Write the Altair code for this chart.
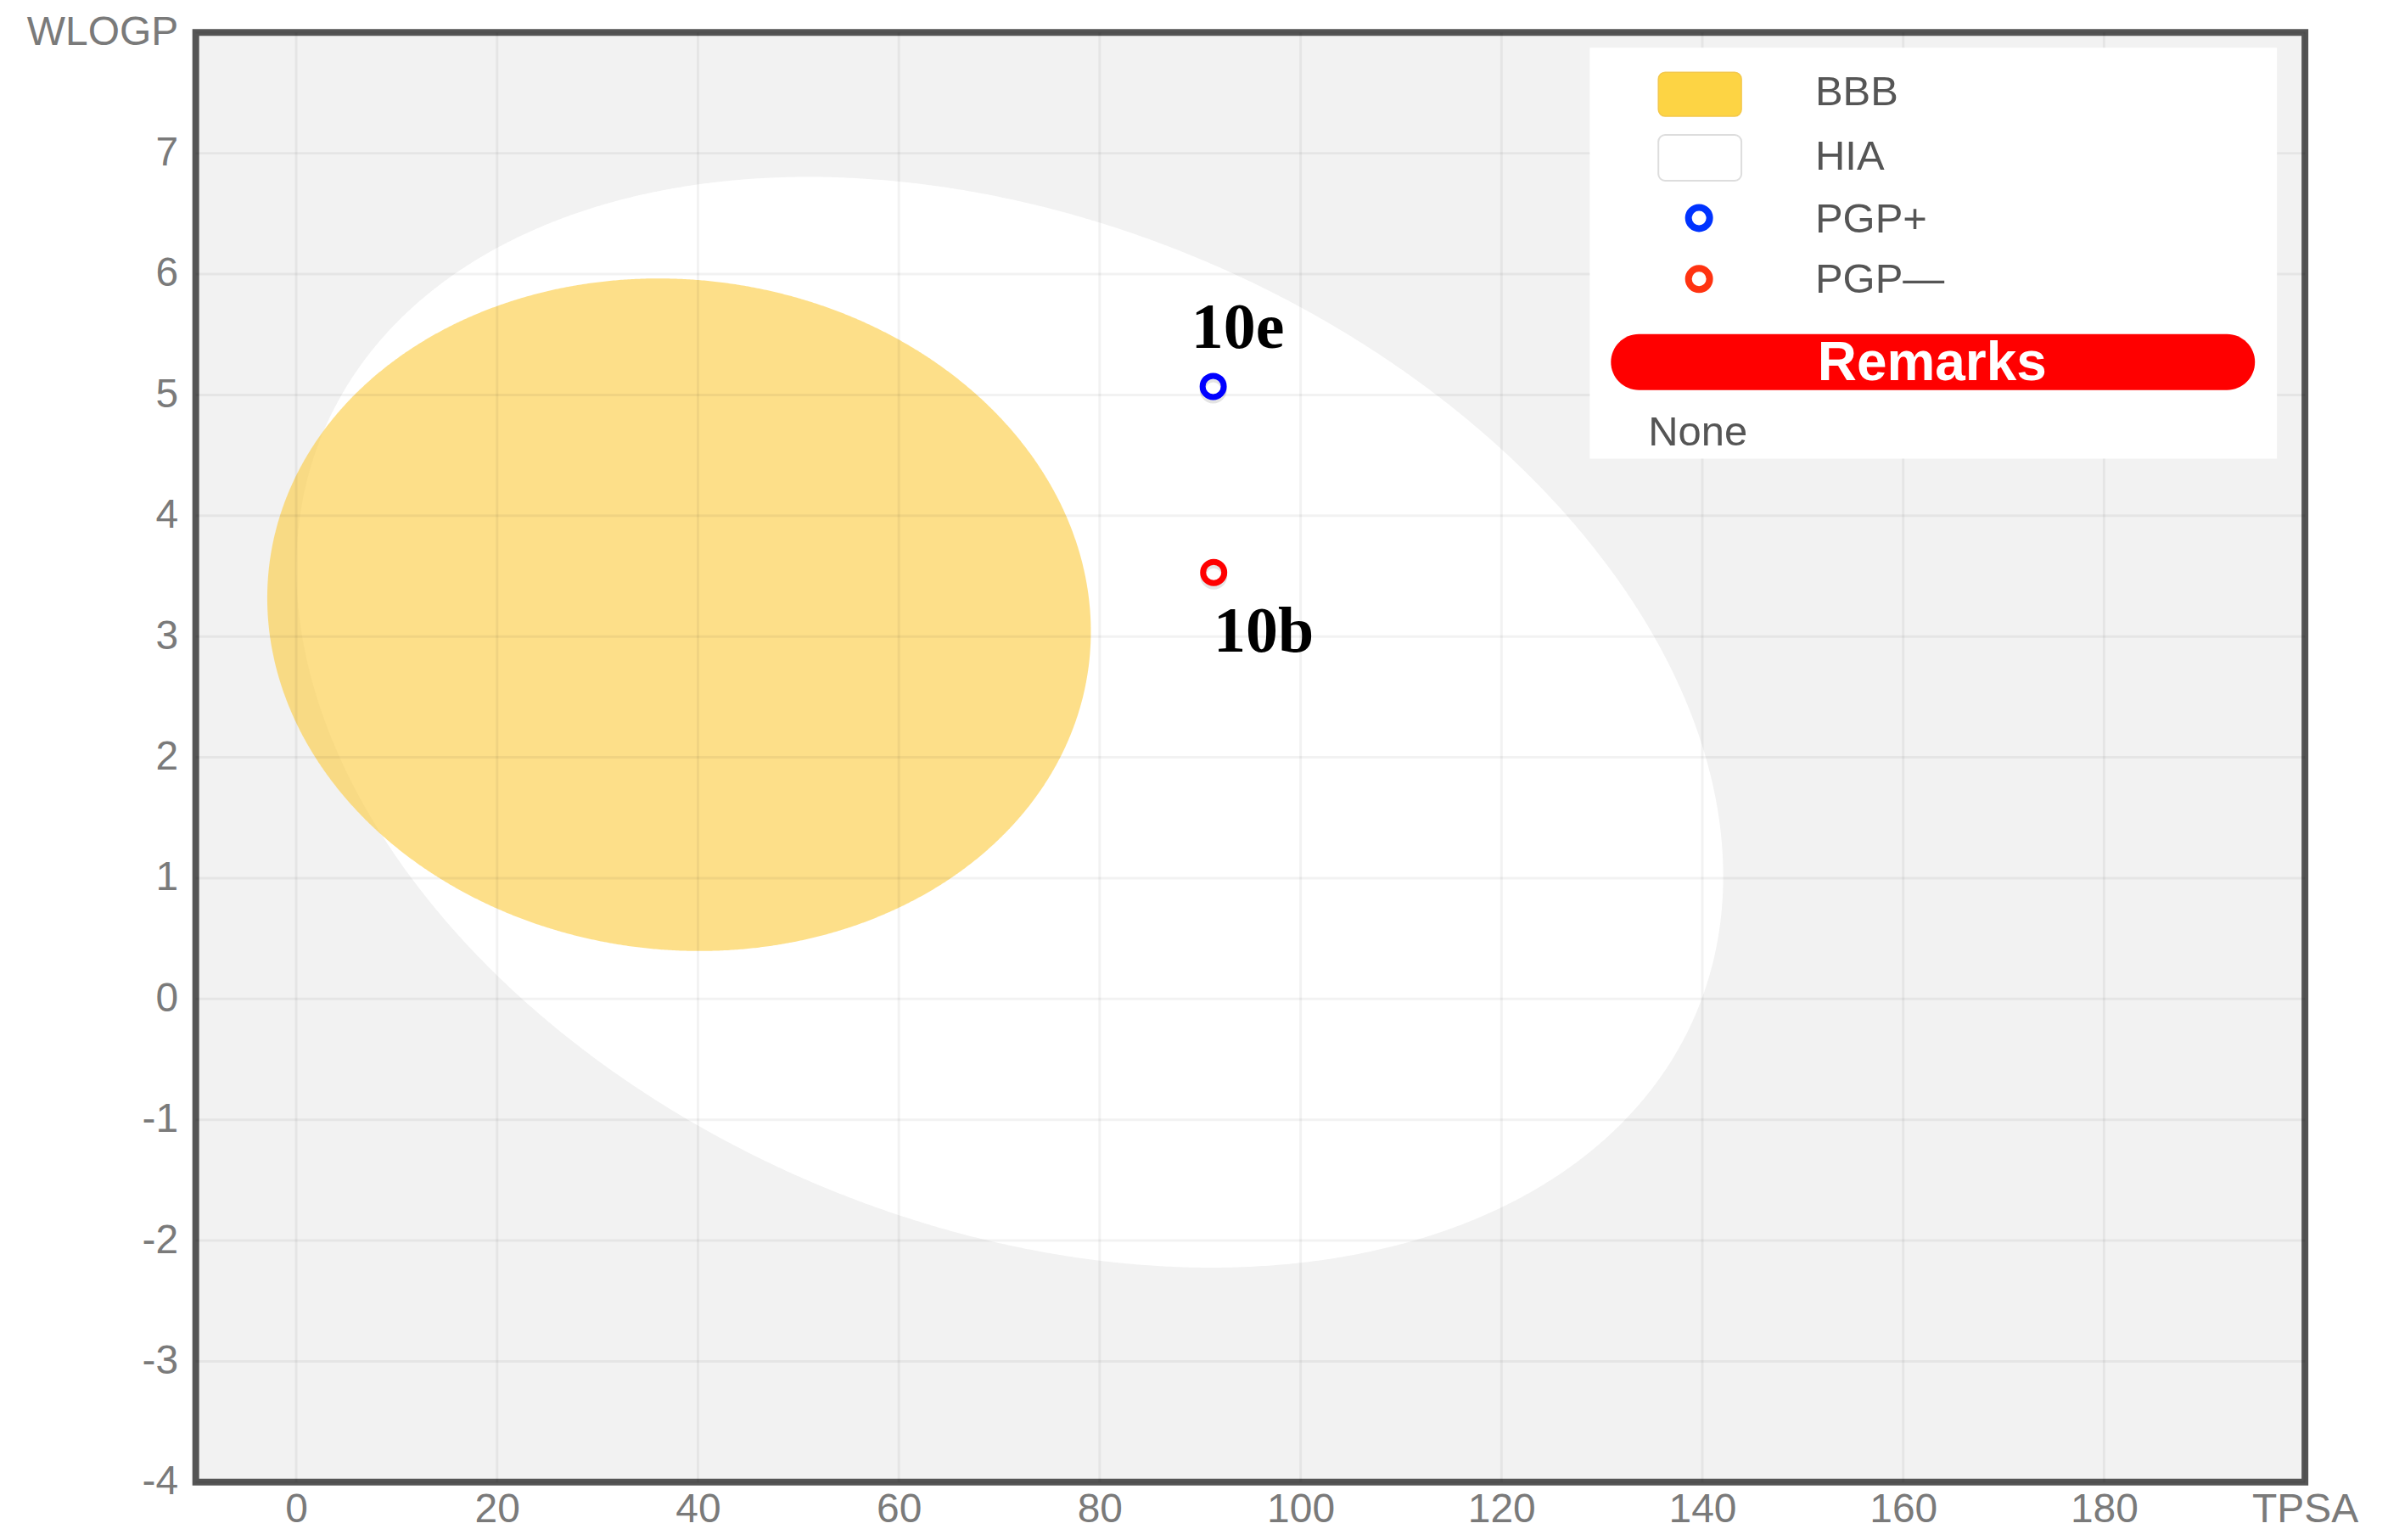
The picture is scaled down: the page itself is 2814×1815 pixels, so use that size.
import altair as alt
import numpy as np
import pandas as pd

# ---------------- data ----------------
x_ticks = [0, 20, 40, 60, 80, 100, 120, 140, 160, 180, 200]
y_ticks = [-4, -3, -2, -1, 0, 1, 2, 3, 4, 5, 6, 7, 8]
x_end_label = "TPSA"
y_end_label = "WLOGP"

compounds = ["10e", "10b"]
tpsa = [91.3, 91.35]
wlogp = [5.07, 3.53]
pgp_class = ["PGP+", "PGP—"]
pgp_colors = ["#0000ff", "#ff0000"]

legend_labels = ["BBB", "HIA", "PGP+", "PGP—"]
remarks_title = "Remarks"
remarks_text = "None"

# BOILED-Egg regions: centre (TPSA, WLOGP), semi-axes (TPSA units, WLOGP units), tilt
hia_ellipse = dict(cx=71.05, cy=2.29, a=71.04, b=4.33, phi=-0.018)
bbb_ellipse = dict(cx=38.12, cy=3.18, a=41.0, b=2.78, phi=-0.0034)


def ellipse_band(e, n=700):
    A = e["a"] * np.cos(e["phi"]); B = -e["b"] * np.sin(e["phi"])
    C = e["a"] * np.sin(e["phi"]); D = e["b"] * np.cos(e["phi"])
    ex = np.hypot(A, B)
    s = np.linspace(0, np.pi, n)
    u = -ex * np.cos(s)
    det = A * D - B * C
    P = A * A + B * B
    Q = D * B + C * A
    R = C * C + D * D
    disc = np.clip((u * Q) ** 2 - P * (u * u * R - det * det), 0, None)
    v1 = (u * Q + np.sqrt(disc)) / P
    v2 = (u * Q - np.sqrt(disc)) / P
    return pd.DataFrame({"x": e["cx"] + u, "y_top": e["cy"] + v1, "y_bot": e["cy"] + v2})


# ---------------- scales / axes ----------------
W, H = 2489, 1711
xs = alt.Scale(domain=[-10, 200], nice=False, zero=False)
ys = alt.Scale(domain=[-4, 8], nice=False, zero=False)
LABEL_FONT = "Liberation Sans"

x_axis = alt.Axis(values=x_ticks, grid=False, ticks=False, domain=False, title=None,
                  labelExpr=f"datum.value == 200 ? '{x_end_label}' : '' + datum.value",
                  labelPadding=9, labelFontSize=48, labelColor="#7a7a7a", labelFont=LABEL_FONT,
                  labelFlush=False, labelOverlap=False)
y_axis = alt.Axis(values=y_ticks, grid=False, ticks=False, domain=False, title=None,
                  labelExpr=f"datum.value == 8 ? '{y_end_label}' : '' + datum.value",
                  labelPadding=21, labelFontSize=48, labelColor="#7a7a7a", labelFont=LABEL_FONT,
                  labelFlush=False, labelOverlap=False)

X = lambda f: alt.X(f, scale=xs, axis=x_axis)
Y = lambda f: alt.Y(f, scale=ys, axis=y_axis)

hia = alt.Chart(ellipse_band(hia_ellipse)).mark_area(color="#ffffff", opacity=1).encode(
    x=X("x:Q"), y=Y("y_top:Q"), y2="y_bot:Q")
bbb = alt.Chart(ellipse_band(bbb_ellipse)).mark_area(color="#fccd46", opacity=0.64).encode(
    x=X("x:Q"), y=Y("y_top:Q"), y2="y_bot:Q")

vgrid = alt.Chart(pd.DataFrame({"x": x_ticks})).mark_rule(color="#000000", opacity=0.05, strokeWidth=3).encode(
    x=X("x:Q"))
hgrid = alt.Chart(pd.DataFrame({"y": y_ticks})).mark_rule(color="#000000", opacity=0.05, strokeWidth=3).encode(
    y=Y("y:Q"))

pts_df = pd.DataFrame({"tpsa": tpsa, "wlogp": wlogp, "cls": pgp_class, "name": compounds})
shadow = alt.Chart(pts_df).mark_point(shape="circle", size=625, strokeWidth=7, filled=False,
                                      color="#000000", opacity=0.1, yOffset=4).encode(
    x=X("tpsa:Q"), y=Y("wlogp:Q"))
points = alt.Chart(pts_df).mark_point(shape="circle", size=625, strokeWidth=7, filled=False, opacity=1).encode(
    x=X("tpsa:Q"), y=Y("wlogp:Q"),
    color=alt.Color("cls:N", scale=alt.Scale(domain=pgp_class, range=pgp_colors), legend=None))

label_offsets = {"10e": (29, -45), "10b": (59, 93)}
labels = []
for name in compounds:
    dx, dy = label_offsets[name]
    labels.append(
        alt.Chart(pts_df).transform_filter(alt.datum.name == name).mark_text(
            font="Liberation Serif", fontWeight="bold", fontSize=76, color="#000000",
            align="center", baseline="alphabetic", dx=dx, dy=dy).encode(
            x=X("tpsa:Q"), y=Y("wlogp:Q"), text="name:N"))

# ---------------- legend panel (pixel layout) ----------------
one = pd.DataFrame({"k": [0]})
box = alt.Chart(one).mark_rect(fill="#ffffff").encode(
    x=alt.value(1645), x2=alt.value(2456), y=alt.value(18), y2=alt.value(503))
sw_bbb = alt.Chart(one).mark_rect(fill="#fdd444", stroke="#f3c74a", strokeWidth=1.5, cornerRadius=8).encode(
    x=alt.value(1726), x2=alt.value(1824), y=alt.value(47), y2=alt.value(99))
sw_hia = alt.Chart(one).mark_rect(fill="#ffffff", stroke="#dddddd", strokeWidth=2, cornerRadius=8).encode(
    x=alt.value(1726), x2=alt.value(1824), y=alt.value(121), y2=alt.value(175))
lg_pgp_pos = alt.Chart(one).mark_point(shape="circle", size=625, strokeWidth=8, filled=False,
                                       color="#0033ff", opacity=1).encode(x=alt.value(1774), y=alt.value(219))
lg_pgp_neg = alt.Chart(one).mark_point(shape="circle", size=625, strokeWidth=8, filled=False,
                                       color="#ff3311", opacity=1).encode(x=alt.value(1774), y=alt.value(291))
legend_text_layers = []
for lab, base in zip(legend_labels, [86, 162, 236, 307]):
    legend_text_layers.append(
        alt.Chart(one).mark_text(text=lab, font=LABEL_FONT, fontSize=49, color="#555555",
                                 align="left", baseline="alphabetic").encode(
            x=alt.value(1911), y=alt.value(base)))
pill = alt.Chart(one).mark_rect(fill="#ff0000", cornerRadius=33).encode(
    x=alt.value(1670), x2=alt.value(2430), y=alt.value(356), y2=alt.value(422))
pill_text = alt.Chart(one).mark_text(text=remarks_title, font=LABEL_FONT, fontWeight="bold", fontSize=64,
                                     color="#ffffff", align="center", baseline="alphabetic").encode(
    x=alt.value(2049), y=alt.value(410))
none_text = alt.Chart(one).mark_text(text=remarks_text, font=LABEL_FONT, fontSize=49, color="#555555",
                                     align="left", baseline="alphabetic").encode(
    x=alt.value(1714), y=alt.value(487))

chart = alt.layer(
    hia, bbb, vgrid, hgrid, shadow, points, *labels,
    box, sw_bbb, sw_hia, lg_pgp_pos, lg_pgp_neg, *legend_text_layers, pill, pill_text, none_text
).properties(
    width=W, height=H,
    background="#ffffff",
    padding={"left": 223, "top": 29, "right": 90, "bottom": 60},
    autosize=alt.AutoSizeParams(type="none"),
).configure_view(
    fill="#f2f2f2", stroke="#555555", strokeWidth=8
)

chart.save("out.html", embed_options={"renderer": "svg", "actions": False})
